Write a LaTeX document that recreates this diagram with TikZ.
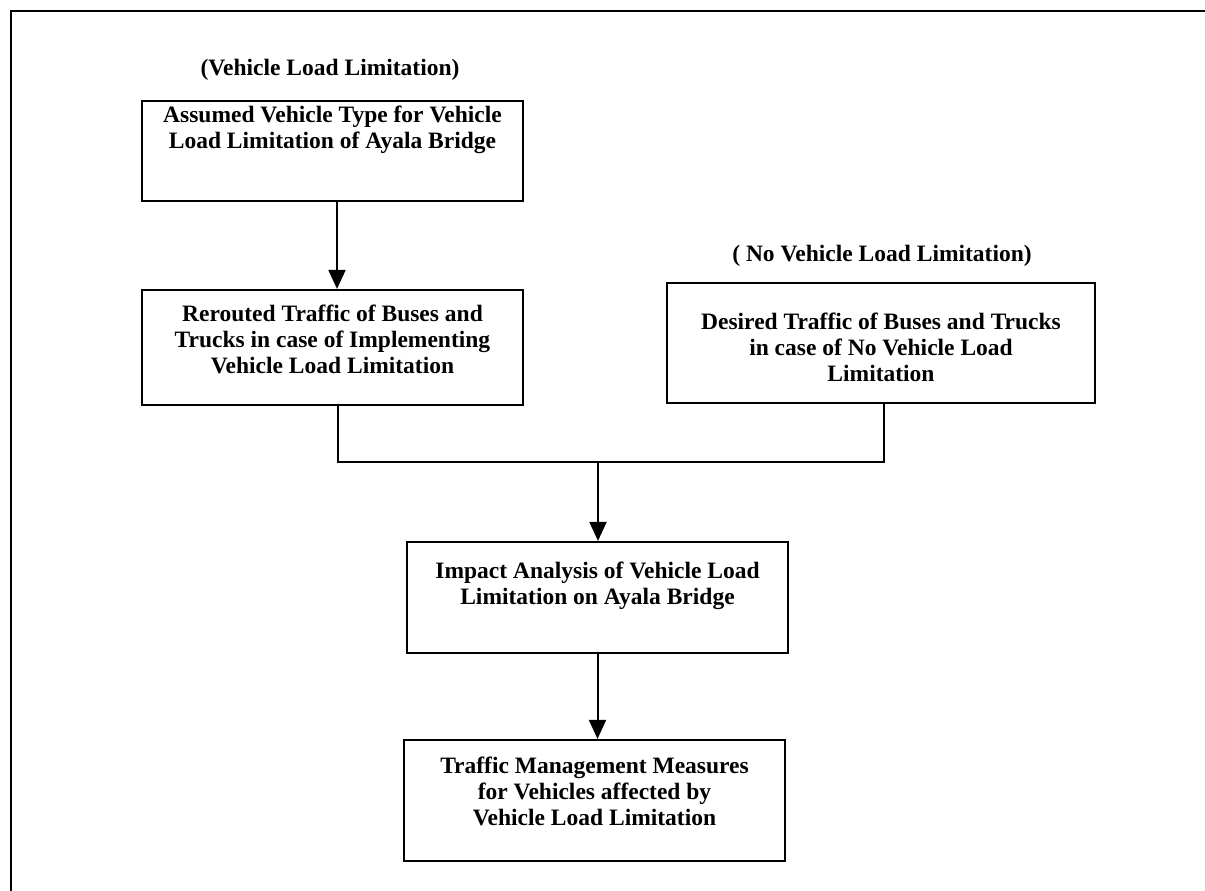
\documentclass[tikz,border=0pt]{standalone}
\usepackage{fontspec}
\setmainfont{Liberation Serif}
\usetikzlibrary{arrows.meta}
\tikzset{
  box/.style={draw=black, line width=2.2pt, rectangle, inner sep=0pt},
  txt/.style={font=\fontsize{23.5}{26}\selectfont\bfseries, align=center, inner sep=0pt},
  ttl/.style={font=\fontsize{23.5}{26}\selectfont\bfseries, inner sep=0pt},
  link/.style={draw=black, line width=2pt},
  arr/.style={link, -{Triangle[length=19pt,width=17pt]}},
  frame/.style={draw=black, line width=2.6pt}
}
\begin{document}
\begin{tikzpicture}[x=1pt,y=-1pt]
\useasboundingbox (0,0) rectangle (1205,891);
% outer frame (open at right and bottom)
\coordinate (fb) at (11,891);
\coordinate (fc) at (11,11);
\coordinate (fr) at (1205,11);
\draw[frame] (fb) -- (fc) -- (fr);

% titles
\node[ttl] (title1) at (330,70) {(Vehicle Load Limitation)};
\node[ttl] (title2) at (882,256) {( No Vehicle Load Limitation)};

% boxes
\node[box, minimum width=381pt, minimum height=100pt] (b1) at (332.5,151) {};
\node[txt] (t1) at (332.5,130) {Assumed Vehicle Type for Vehicle\\Load Limitation of Ayala Bridge};

\node[box, minimum width=381pt, minimum height=115pt] (b2) at (332.5,347.5) {};
\node[txt] (t2) at (332.5,339) {Rerouted Traffic of Buses and\\Trucks in case of Implementing\\Vehicle Load Limitation};

\node[box, minimum width=428pt, minimum height=120pt] (b3) at (881,343) {};
\node[txt] (t3) at (881,347) {Desired Traffic of Buses and Trucks\\in case of No Vehicle Load\\Limitation};

\node[box, minimum width=381pt, minimum height=111pt] (b4) at (597.5,597.5) {};
\node[txt] (t4) at (597.5,586) {Impact Analysis of Vehicle Load\\Limitation on Ayala Bridge};

\node[box, minimum width=381pt, minimum height=121pt] (b5) at (594.5,800.5) {};
\node[txt] (t5) at (594.5,791) {Traffic Management Measures\\for Vehicles affected by\\Vehicle Load Limitation};

% connectors
\draw[arr] ([xshift=4.5pt]b1.south) -- ([xshift=4.5pt]b2.north);
\coordinate (jl) at (338,462);
\coordinate (jr) at (884,462);
\coordinate (jm) at (598,462);
\draw[link] ([xshift=5.5pt]b2.south) -- (jl) -- (jr) -- ([xshift=3pt]b3.south);
\draw[arr] (jm) -- (jm |- b4.north);
\draw[arr] (b4.south) -- (b4.south |- b5.north);
\end{tikzpicture}
\end{document}
